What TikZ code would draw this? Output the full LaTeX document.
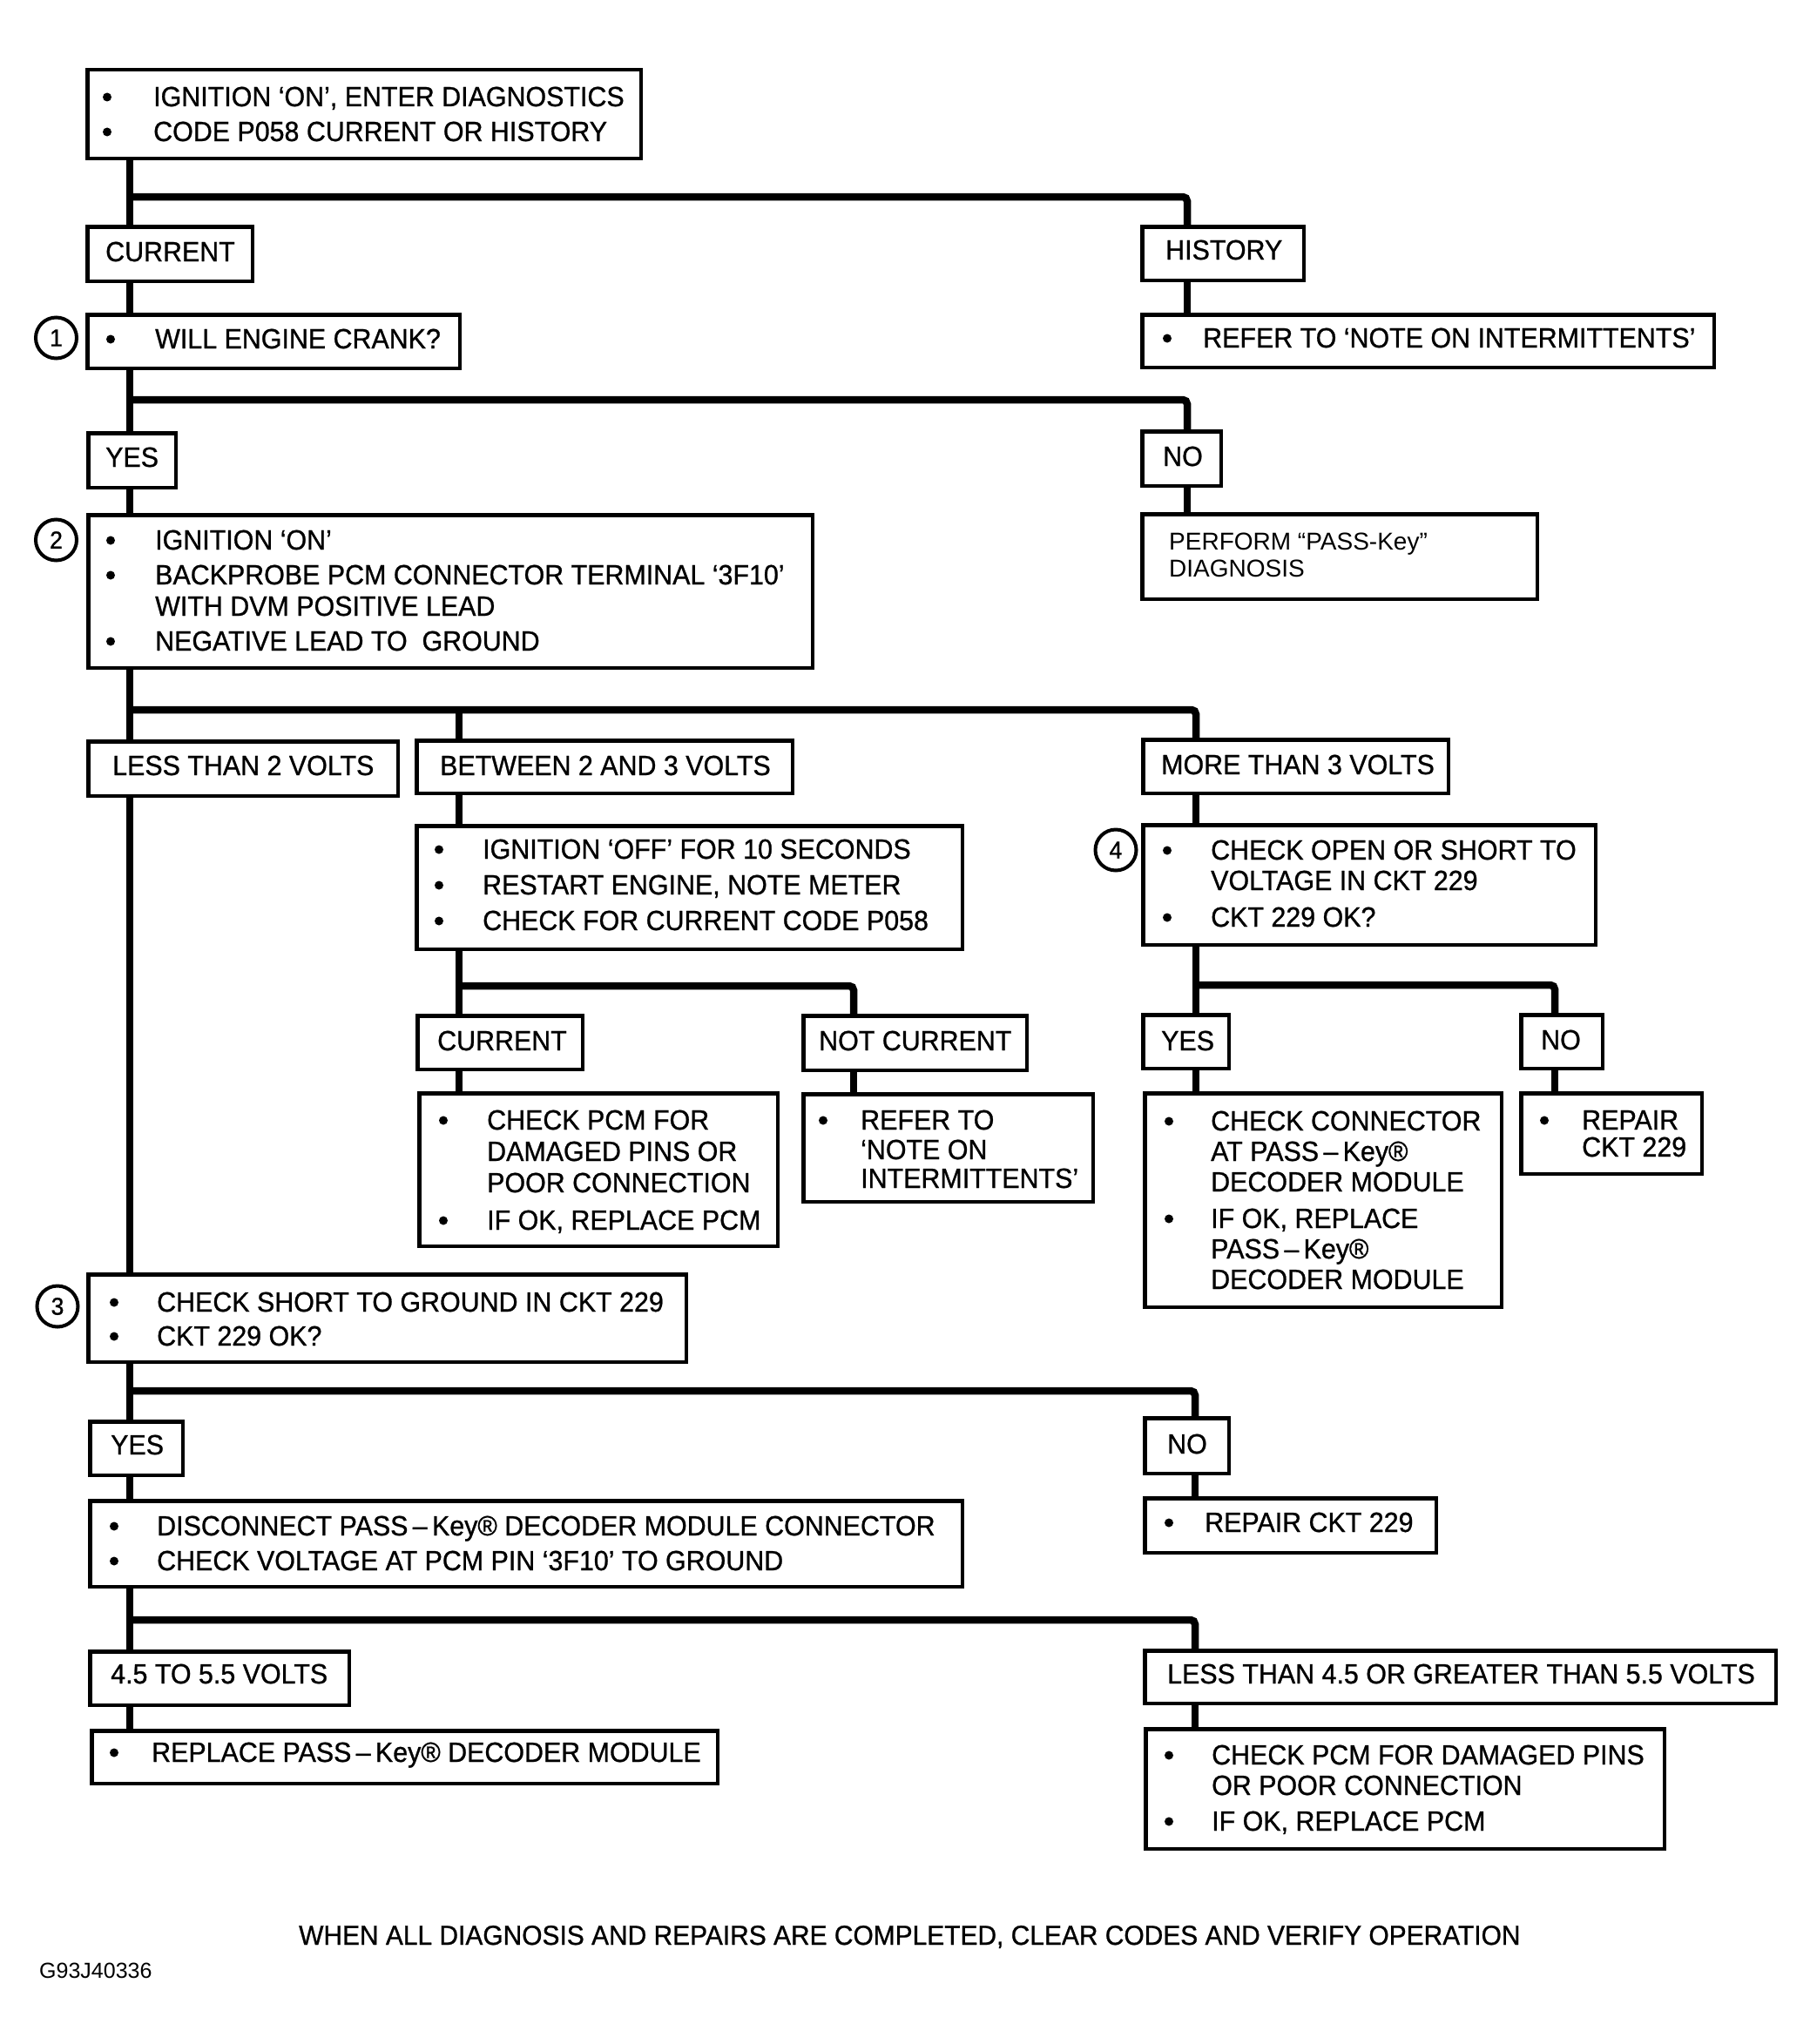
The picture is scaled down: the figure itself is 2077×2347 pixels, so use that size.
\documentclass[tikz,border=0pt]{standalone}
\usepackage{fontspec}
\setmainfont{Liberation Sans}[FakeStretch=0.95,FakeBold=0.8]
\newfontfamily\lightfam{Liberation Sans}
\newcommand\mainsz{\fontsize{32}{36}\selectfont}
\newcommand\perfsz{\lightfam\fontsize{28}{32}\selectfont}
\newcommand\whensz{\fontsize{31.5}{36}\selectfont}
\newcommand\codesz{\lightfam\fontsize{25}{30}\selectfont}
\newcommand\numsz{\fontsize{28}{32}\selectfont}
\newcommand\bx[5]{\node[box, minimum width={#4-#2-4.5}, minimum height={#5-#3-4.5}] (#1) at (#2,#3) {};}
\newcommand\txtat[4]{\node[txt] (#1) at (#2,#3) {#4};}
\newcommand\bulat[3]{\node[bul] (#1) at (#2,#3-10.5) {};}
\newcommand\pk{PASS\,–\,Key®}
\begin{document}
\begin{tikzpicture}[x=1pt,y=-1pt,
  box/.style={draw, line width=4.5pt, inner sep=0pt, anchor=north west},
  conn/.style={line width=8.5pt, rounded corners=5pt},
  txt/.style={anchor=base west, inner sep=0pt, font=\mainsz},
  bul/.style={circle, fill, draw=none, minimum size=10pt, inner sep=0pt},
  num/.style={circle, draw, line width=4pt, minimum size=47pt, inner sep=0pt, font=\numsz}]
\fill[white] (0,0) rectangle (2077,2347);
\useasboundingbox (0,0) rectangle (2077,2347);

% branch x coordinates
\coordinate (m) at (149,0);
\coordinate (r1) at (1363,0);
\coordinate (r2) at (1373,0);
\coordinate (r3) at (1372,0);
\coordinate (xb) at (527,0);
\coordinate (xn) at (980,0);
\coordinate (xr) at (1785,0);
% junctions
\coordinate (h1) at (149,226);
\coordinate (h2) at (149,459);
\coordinate (h3) at (149,815);
\coordinate (h3b) at (527,815);
\coordinate (h4) at (527,1132);
\coordinate (h5) at (1373,1131);
\coordinate (h6) at (149,1597);
\coordinate (h7) at (149,1860);

% boxes
\bx{t0}{98}{78}{738}{184}
\bx{bcur}{98}{258}{292}{325}
\bx{bhist}{1309}{258}{1499}{324}
\bx{b1}{98}{359}{530}{425}
\bx{brefer1}{1309}{359}{1970}{424}
\bx{byes1}{99}{495}{204}{562}
\bx{bno1}{1309}{493}{1404}{560}
\bx{b2}{99}{589}{935}{769}
\bx{bperf}{1309}{588}{1767}{690}
\bx{bless2}{99}{849}{459}{916}
\bx{bbetw}{476}{848}{912}{913}
\bx{bmore}{1310}{847}{1665}{913}
\bx{bign}{476}{946}{1107}{1092}
\bx{b4}{1310}{945}{1834}{1087}
\bx{bcur2}{477}{1164}{671}{1230}
\bx{bnotcur}{920}{1164}{1181}{1231}
\bx{byes2}{1310}{1163}{1413}{1229}
\bx{bno2}{1744}{1163}{1842}{1229}
\bx{bpcm}{479}{1253}{895}{1433}
\bx{brefer2}{920}{1254}{1257}{1382}
\bx{bconn}{1312}{1253}{1726}{1503}
\bx{brep}{1744}{1253}{1956}{1350}
\bx{b3}{99}{1461}{790}{1566}
\bx{byes3}{101}{1630}{212}{1696}
\bx{bno3}{1312}{1626}{1413}{1694}
\bx{bdisc}{101}{1721}{1107}{1824}
\bx{brep3}{1312}{1718}{1651}{1785}
\bx{b45}{101}{1894}{403}{1960}
\bx{bless45}{1312}{1893}{2041}{1958}
\bx{brepl}{103}{1985}{826}{2050}
\bx{bpcm2}{1313}{1983}{1913}{2125}

% numbered circles
\node[num] (n1) at (64.5,388) {1};
\node[num] (n2) at (64.5,620) {2};
\node[num] (n3) at (66,1500) {3};
\node[num] (n4) at (1281,976) {4};

% connectors
\draw[conn] (t0.south -| m) -- (bcur.north -| m);
\draw[conn] (h1) -| (bhist.north -| r1);
\draw[conn] (bhist.south -| r1) -- (brefer1.north -| r1);
\draw[conn] (bcur.south -| m) -- (b1.north -| m);
\draw[conn] (b1.south -| m) -- (byes1.north -| m);
\draw[conn] (h2) -| (bno1.north -| r1);
\draw[conn] (bno1.south -| r1) -- (bperf.north -| r1);
\draw[conn] (byes1.south -| m) -- (b2.north -| m);
\draw[conn] (b2.south -| m) -- (bless2.north -| m);
\draw[conn] (h3) -| (bmore.north -| r2);
\draw[conn] (h3b) -- (bbetw.north -| xb);
\draw[conn] (bless2.south -| m) -- (b3.north -| m);
\draw[conn] (bbetw.south -| xb) -- (bign.north -| xb);
\draw[conn] (bign.south -| xb) -- (bcur2.north -| xb);
\draw[conn] (h4) -| (bnotcur.north -| xn);
\draw[conn] (bcur2.south -| xb) -- (bpcm.north -| xb);
\draw[conn] (bnotcur.south -| xn) -- (brefer2.north -| xn);
\draw[conn] (bmore.south -| r2) -- (b4.north -| r2);
\draw[conn] (b4.south -| r2) -- (byes2.north -| r2);
\draw[conn] (h5) -| (bno2.north -| xr);
\draw[conn] (byes2.south -| r2) -- (bconn.north -| r2);
\draw[conn] (bno2.south -| xr) -- (brep.north -| xr);
\draw[conn] (b3.south -| m) -- (byes3.north -| m);
\draw[conn] (h6) -| (bno3.north -| r3);
\draw[conn] (byes3.south -| m) -- (bdisc.north -| m);
\draw[conn] (bno3.south -| r3) -- (brep3.north -| r3);
\draw[conn] (bdisc.south -| m) -- (b45.north -| m);
\draw[conn] (h7) -| (bless45.north -| r3);
\draw[conn] (b45.south -| m) -- (brepl.north -| m);
\draw[conn] (bless45.south -| r3) -- (bpcm2.north -| r3);

% texts
\bulat{t0p1}{123}{122}\txtat{t0l1}{176}{122}{IGNITION ‘ON’, ENTER DIAGNOSTICS}
\bulat{t0p2}{123}{162}\txtat{t0l2}{176}{162}{CODE P058 CURRENT OR HISTORY}
\txtat{bcurl}{121}{300}{CURRENT}
\txtat{bhistl}{1338}{298}{HISTORY}
\bulat{b1p}{127}{400}\txtat{b1l}{178}{400}{WILL ENGINE CRANK?}
\bulat{brefer1p}{1340}{399}\txtat{brefer1l}{1381}{399}{REFER TO ‘NOTE ON INTERMITTENTS’}
\txtat{byes1l}{121}{536}{YES}
\txtat{bno1l}{1335}{535}{NO}
\bulat{b2p1}{127}{631}\txtat{b2l1}{178}{631}{IGNITION ‘ON’}
\bulat{b2p2}{127}{671}\txtat{b2l2}{178}{671}{BACKPROBE PCM CONNECTOR TERMINAL ‘3F10’}
\txtat{b2l3}{178}{707}{WITH DVM POSITIVE LEAD}
\bulat{b2p4}{127}{747}\txtat{b2l4}{178}{747}{NEGATIVE LEAD TO\ \ GROUND}
\node[txt, font=\perfsz] (bperfl1) at (1342,631) {PERFORM “PASS-Key”};
\node[txt, font=\perfsz] (bperfl2) at (1342,662) {DIAGNOSIS};
\txtat{bless2l}{129}{890}{LESS THAN 2 VOLTS}
\txtat{bbetwl}{505}{890}{BETWEEN 2 AND 3 VOLTS}
\txtat{bmorel}{1333}{889}{MORE THAN 3 VOLTS}
\bulat{bignp1}{504}{986}\txtat{bignl1}{554}{986}{IGNITION ‘OFF’ FOR 10 SECONDS}
\bulat{bignp2}{504}{1027}\txtat{bignl2}{554}{1027}{RESTART ENGINE, NOTE METER}
\bulat{bignp3}{504}{1068}\txtat{bignl3}{554}{1068}{CHECK FOR CURRENT CODE P058}
\bulat{b4p1}{1340}{987}\txtat{b4l1}{1390}{987}{CHECK OPEN OR SHORT TO}
\txtat{b4l2}{1390}{1022}{VOLTAGE IN CKT 229}
\bulat{b4p3}{1340}{1064}\txtat{b4l3}{1390}{1064}{CKT 229 OK?}
\txtat{bcur2l}{502}{1206}{CURRENT}
\txtat{bnotcurl}{940}{1206}{NOT CURRENT}
\txtat{byes2l}{1333}{1206}{YES}
\txtat{bno2l}{1769}{1205}{NO}
\bulat{bpcmp1}{509}{1297}\txtat{bpcml1}{559}{1297}{CHECK PCM FOR}
\txtat{bpcml2}{559}{1333}{DAMAGED PINS OR}
\txtat{bpcml3}{559}{1369}{POOR CONNECTION}
\bulat{bpcmp4}{509}{1412}\txtat{bpcml4}{559}{1412}{IF OK, REPLACE PCM}
\bulat{brefer2p}{945}{1297}\txtat{brefer2l1}{988}{1297}{REFER TO}
\txtat{brefer2l2}{988}{1331}{‘NOTE ON}
\txtat{brefer2l3}{988}{1364}{INTERMITTENTS’}
\bulat{bconnp1}{1342}{1298}\txtat{bconnl1}{1390}{1298}{CHECK CONNECTOR}
\txtat{bconnl2}{1390}{1333}{AT \pk}
\txtat{bconnl3}{1390}{1368}{DECODER MODULE}
\bulat{bconnp4}{1342}{1410}\txtat{bconnl4}{1390}{1410}{IF OK, REPLACE}
\txtat{bconnl5}{1390}{1445}{\pk}
\txtat{bconnl6}{1390}{1480}{DECODER MODULE}
\bulat{brepp}{1773}{1297}\txtat{brepl1}{1816}{1297}{REPAIR}
\txtat{brepl2}{1816}{1328}{CKT 229}
\bulat{b3p1}{131}{1506}\txtat{b3l1}{180}{1506}{CHECK SHORT TO GROUND IN CKT 229}
\bulat{b3p2}{131}{1545}\txtat{b3l2}{180}{1545}{CKT 229 OK?}
\txtat{byes3l}{127}{1670}{YES}
\txtat{bno3l}{1340}{1669}{NO}
\bulat{bdiscp1}{131}{1763}\txtat{bdiscl1}{180}{1763}{DISCONNECT \pk{} DECODER MODULE CONNECTOR}
\bulat{bdiscp2}{131}{1803}\txtat{bdiscl2}{180}{1803}{CHECK VOLTAGE AT PCM PIN ‘3F10’ TO GROUND}
\bulat{brep3p}{1342}{1759}\txtat{brep3l}{1383}{1759}{REPAIR CKT 229}
\txtat{b45l}{127}{1933}{4.5 TO 5.5 VOLTS}
\txtat{bless45l}{1340}{1933}{LESS THAN 4.5 OR GREATER THAN 5.5 VOLTS}
\bulat{breplp}{131}{2023}\txtat{brepll}{174}{2023}{REPLACE \pk{} DECODER MODULE}
\bulat{bpcm2p1}{1342}{2026}\txtat{bpcm2l1}{1391}{2026}{CHECK PCM FOR DAMAGED PINS}
\txtat{bpcm2l2}{1391}{2061}{OR POOR CONNECTION}
\bulat{bpcm2p3}{1342}{2102}\txtat{bpcm2l3}{1391}{2102}{IF OK, REPLACE PCM}
\node[txt, font=\whensz] (when) at (343,2233) {WHEN ALL DIAGNOSIS AND REPAIRS ARE COMPLETED, CLEAR CODES AND VERIFY OPERATION};
\node[txt, font=\codesz] (code) at (45,2271) {G93J40336};
\end{tikzpicture}
\end{document}
